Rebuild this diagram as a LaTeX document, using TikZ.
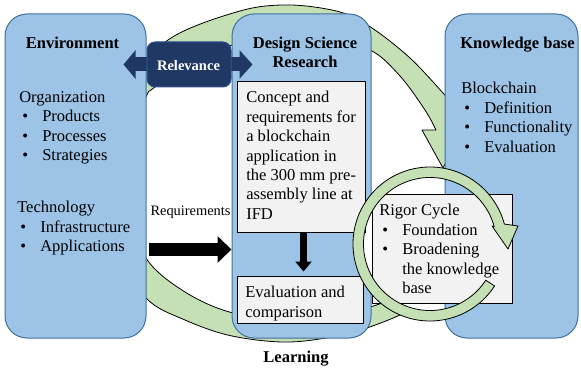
\documentclass[tikz,border=0pt]{standalone}
\usepackage{fontspec}
\setmainfont{Liberation Serif}
\usetikzlibrary{arrows.meta}
\definecolor{boxblue}{HTML}{9DC3E6}
\definecolor{boxline}{HTML}{41719C}
\definecolor{cyclegreen}{HTML}{C5E0B4}
\definecolor{relnavy}{HTML}{203864}
\definecolor{relline}{HTML}{2F528F}
\definecolor{notegray}{HTML}{F2F2F2}
\newcommand\bulitem[1]{\hspace*{2.25pt}\makebox[15pt][l]{\textbullet}#1}
\begin{document}
\begin{tikzpicture}[x=0.75pt,y=-0.75pt,>=latex,line join=round,
    pillar/.style={draw=boxline,fill=boxblue,line width=0.75pt,rounded corners=16.5pt,inner sep=0pt},
    notebox/.style={draw=black,fill=notegray,line width=0.75pt,inner sep=0pt},
    cycleband/.style={draw=black,fill=cyclegreen,line width=0.6pt},
    txt/.style={inner sep=0pt,font=\fontsize{12.4}{14.6}\selectfont},
    txthead/.style={txt,anchor=base,font=\fontsize{12.4}{14.6}\selectfont\bfseries},
    txtblock/.style={txt,anchor=north west,align=left,execute at begin node=\strut},
    blockarrow/.style={draw=black,line width=9.75pt,-{Triangle[length=10.5pt,width=19.5pt]}},
    relarrow/.style={draw=relnavy,line width=10.5pt,{Triangle[length=9pt,width=21pt]}-{Triangle[length=9.75pt,width=21pt]}}]
    \useasboundingbox (0,0) rectangle (581,370);
    %% learning cycle
    \filldraw[cycleband] plot[smooth,tension=0.55] coordinates {(415,303) (400,315) (350,333) (290,342) (232,336) (185,320) (146,298) (115,245) (105,170) (122,95) (168,40) (240,11) (290,5) (340,12) (372,28) (410,58) (443,93) (452,104)}
        -- (470,116) -- (443,168) -- (422,130) -- (436,130)
        -- plot[smooth,tension=0.55] coordinates {(436,130) (425,110) (400,76) (370,50) (320,38) (260,40) (200,55) (155,87) (146,97) (130,140) (127,200) (146,258) (185,292) (233,313) (300,322) (370,307) (405,293)} -- cycle;
    %% columns
    \node (node_env) at (75.5,176) [pillar,minimum width=105.75pt,minimum height=243pt] {};
    \node (node_dsr) at (301.5,176) [pillar,minimum width=104.25pt,minimum height=243pt] {};
    \fill[white] (430,244) circle[radius=66.5];
    \node (node_kb) at (511.5,176) [pillar,minimum width=99.75pt,minimum height=243pt] {};
    %% relevance
    \coordinate (rel_lvl) at (0,64.5);
    \draw[relarrow,shorten <=-17.25pt,shorten >=-15.75pt] (node_env.east |- rel_lvl) -- (node_dsr.west |- rel_lvl);
    \node (node_rel) at (189,64.5) [draw=relline,fill=relnavy,line width=0.75pt,rounded corners=6pt,inner sep=0pt,minimum width=63pt,minimum height=33.75pt] {};
    \node (lbl_rel) at (188.5,71) [txt,anchor=base,text=white,font=\fontsize{10.9}{13}\selectfont\bfseries] {Relevance};
    %% requirements
    \coordinate (req_lvl) at (0,249.5);
    \draw[blockarrow,shorten <=1.5pt] (node_env.east |- req_lvl) -- (node_dsr.west |- req_lvl);
    \node (lbl_req) at (190.5,216) [txt,anchor=base,font=\fontsize{10.8}{13}\selectfont] {Requirements};
    %% design steps
    \node (node_concept) at (301,157) [notebox,minimum width=96pt,minimum height=112.5pt] {};
    \node (node_eval) at (300,299.5) [notebox,minimum width=94.5pt,minimum height=35.25pt] {};
    \coordinate (down_lvl) at (303.5,0);
    \draw[draw=black,line width=5.25pt,-{Triangle[length=7.5pt,width=12pt]},shorten >=3pt] (node_concept.south -| down_lvl) -- (node_eval.north -| down_lvl);
    %% rigor
    \node (node_rigor) at (442,249) [notebox,minimum width=105pt,minimum height=81pt] {};
    \filldraw[cycleband] (494.58,285.94) arc[start angle=33,end angle=345,radius=77] -- (518,226) -- (508,249) -- (492,226) -- (494.23,226.79) arc[start angle=345,end angle=33,radius=66.5] -- cycle;
    %% texts
    \node (ttl_env) at (72.5,48.5) [txthead] {Environment};
    \node (ttl_dsr) at (305,48.5) [txthead] {Design Science};
    \node (ttl_dsr2) at (305,67.5) [txthead] {Research};
    \node (ttl_kb) at (517.5,48.5) [txthead] {Knowledge base};
    \node (txt_org) at (19,90.9) [txtblock] {Organization\\\bulitem{Products}\\\bulitem{Processes}\\\bulitem{Strategies}};
    \node (txt_tech) at (17,200.9) [txtblock] {Technology\\\bulitem{Infrastructure}\\\bulitem{Applications}};
    \node (txt_bc) at (461,81.9) [txtblock] {Blockchain\\\bulitem{Definition}\\\bulitem{Functionality}\\\bulitem{Evaluation}};
    \node (txt_concept) at (246,90.9) [txtblock] {Concept and\\requirements for\\a blockchain\\application in\\the 300 mm pre-\\assembly line at\\IFD};
    \node (txt_eval) at (245,285.9) [txtblock] {Evaluation and\\comparison};
    \node (txt_rigor) at (379,203.9) [txtblock] {Rigor Cycle\\\bulitem{Foundation}\\\bulitem{Broadening}\\\hspace*{17.25pt}the knowledge\\\hspace*{17.25pt}base};
    \node (lbl_learn) at (296,362) [txthead] {Learning};
\end{tikzpicture}
\end{document}
